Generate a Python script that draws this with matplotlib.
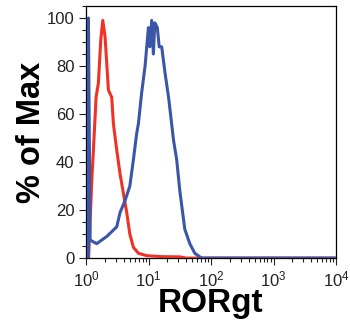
import matplotlib
matplotlib.use('Agg')
import matplotlib.pyplot as plt
from matplotlib.ticker import MultipleLocator, LogLocator

plt.rcParams['font.family'] = ['Liberation Sans', 'DejaVu Sans']

# isotype control (red), log10 of fluorescence vs % of max
red_logx = [0.04, 0.091, 0.117, 0.16, 0.197, 0.235, 0.267, 0.304, 0.357, 0.41,
            0.437, 0.49, 0.544, 0.597, 0.65, 0.70, 0.757, 0.837, 0.97, 1.2,
            1.5, 1.6, 4.0]
red_pct = [0, 32.5, 45, 67, 73, 91, 99, 92, 70, 67,
           56, 45, 35, 27, 19, 10, 4.5, 2, 1, 0.6,
           0.5, 0, 0]

# RORgt stain (blue)
blue_logx = [0.037, 0.037, 0.064, 0.17, 0.33, 0.49, 0.544, 0.624, 0.70, 0.757,
             0.81, 0.837, 0.89, 0.944, 0.997, 1.02, 1.05, 1.077, 1.10, 1.14,
             1.17, 1.21, 1.264, 1.32, 1.40, 1.45, 1.50, 1.58, 1.66, 1.74,
             1.82, 1.86, 4.0]
blue_pct = [0, 100, 7.5, 6, 9, 13, 19, 24, 30, 41,
            52, 56, 69, 80, 96, 88, 99, 85, 98, 96,
            88, 88, 77, 67, 49, 41, 28, 12, 6, 2,
            0.5, 0, 0]

red_x = [10 ** v for v in red_logx]
blue_x = [10 ** v for v in blue_logx]

fig = plt.figure(figsize=(3.5, 3.33), dpi=100)
ax = fig.add_axes([0.246, 0.225, 0.714, 0.757])

ax.plot(red_x, red_pct, color='#f03226', linewidth=2.2, zorder=3)
ax.plot(blue_x, blue_pct, color='#3a56a8', linewidth=2.2, zorder=4)

ax.set_xscale('log')
ax.set_xlim(1, 1e4)
ax.set_ylim(0, 105)
ax.yaxis.set_major_locator(MultipleLocator(20))
ax.yaxis.set_minor_locator(MultipleLocator(5))
ax.xaxis.set_major_locator(LogLocator(base=10, numticks=10))
ax.xaxis.set_minor_locator(LogLocator(base=10, subs=range(2, 10), numticks=10))

ax.tick_params(axis='both', which='major', length=5, width=0.8,
               labelsize=12, colors='#222222', direction='out')
ax.tick_params(axis='both', which='minor', length=3, width=0.8,
               colors='#222222', direction='out')
for s in ax.spines.values():
    s.set_linewidth(0.9)

ax.set_ylabel('% of Max', fontsize=23.5, fontweight='bold', labelpad=0)
ax.set_xlabel('RORgt', fontsize=24, fontweight='bold', labelpad=-1)

fig.savefig('out.png', dpi=100, facecolor='white')
